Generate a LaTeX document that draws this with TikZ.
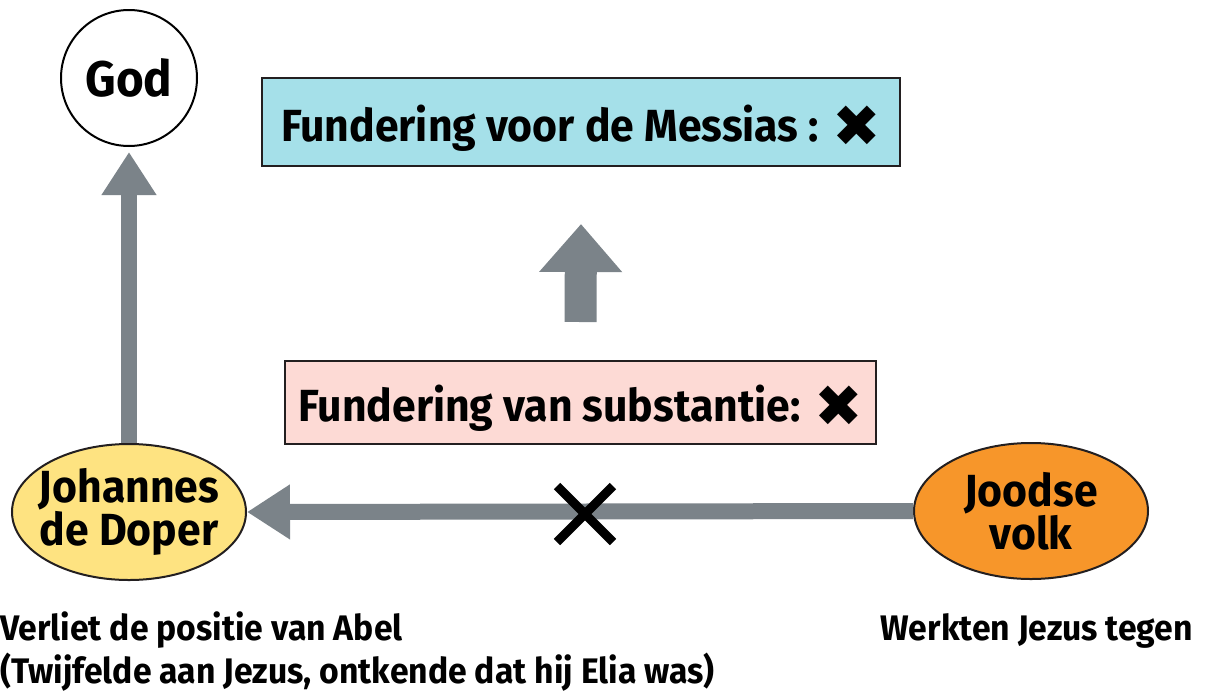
\documentclass[tikz,border=0pt]{standalone}
\usepackage{fontspec}
\usetikzlibrary{arrows.meta,shapes.geometric}
\newfontfamily\cf{Fira Sans}[FakeStretch=0.95]
\newfontfamily\symf{DejaVu Sans}
\definecolor{arrowgray}{HTML}{7B8389}
\definecolor{cyanfill}{HTML}{A5E0E9}
\definecolor{pinkfill}{HTML}{FDDAD5}
\definecolor{yellowfill}{HTML}{FEE381}
\definecolor{orangefill}{HTML}{F7962A}
\definecolor{edge}{HTML}{231F20}
\tikzset{
  big/.style={font=\cf\bfseries\fontsize{45}{43}\selectfont},
  caption/.style={font=\cf\bfseries\fontsize{35.5}{43}\selectfont, inner sep=0pt},
  fbox/.style={rectangle, draw=edge, line width=2pt, big, inner sep=0pt, text height=38pt, text depth=0pt},
  oval/.style={ellipse, draw=edge, line width=2pt, minimum width=234pt, minimum height=136pt, inner sep=0pt},
  blockarrow/.style={draw=arrowgray, line width=16pt, -{Triangle[width=52pt,length=43pt]}},
  fatarrow/.style={draw=arrowgray, line width=32pt, -{Triangle[width=80pt,length=48pt]}},
  xmark/.style={draw=black, line width=9pt},
}
\newcommand{\nox}{\raisebox{-5pt}{\symf\fontsize{58}{58}\selectfont ✖}}
\begin{document}
\begin{tikzpicture}[x=1pt,y=-1pt]
\useasboundingbox (0,0) rectangle (1205,697);
% nodes
\node[circle, draw=black, line width=2pt, minimum size=136pt, inner sep=0pt, font=\cf\bfseries\fontsize{50}{50}\selectfont] (god) at (129,78) {God};
\node[fbox, fill=cyanfill, minimum width=638pt, minimum height=88pt] (messias) at (581,122) {Fundering voor de Messias : \nox};
\node[fbox, fill=pinkfill, minimum width=591pt, minimum height=83pt] (subst) at (580.5,402.5) {Fundering van substantie: \nox};
\node[oval, fill=yellowfill, label={[big, align=center]center:Johannes\\de Doper}] (johannes) at (129,512) {};
\node[oval, fill=orangefill, label={[big, align=center]center:Joodse\\volk}] (joods) at (1031,511) {};
% connectors
\draw[blockarrow] (johannes.north) -- ([yshift=-5pt]god.south);
\draw[fatarrow] ([yshift=38pt]subst.north) -- ([yshift=-57pt]messias.south);
\draw[blockarrow] (joods.west) -- (johannes.east);
% cross on the connector
\coordinate (cross) at (585,514);
\draw[xmark] ([shift={(-28pt,28pt)}]cross) -- ([shift={(28pt,-28pt)}]cross);
\draw[xmark] ([shift={(-28pt,-28pt)}]cross) -- ([shift={(28pt,28pt)}]cross);
% captions
\node[caption, anchor=base west] (abel) at (0,640) {Verliet de positie van Abel};
\node[caption, anchor=base west] (doubt) at (0,683) {(Twijfelde aan Jezus, ontkende dat hij Elia was)};
\node[caption, anchor=base east] (against) at (1193,640) {Werkten Jezus tegen};
\end{tikzpicture}
\end{document}
